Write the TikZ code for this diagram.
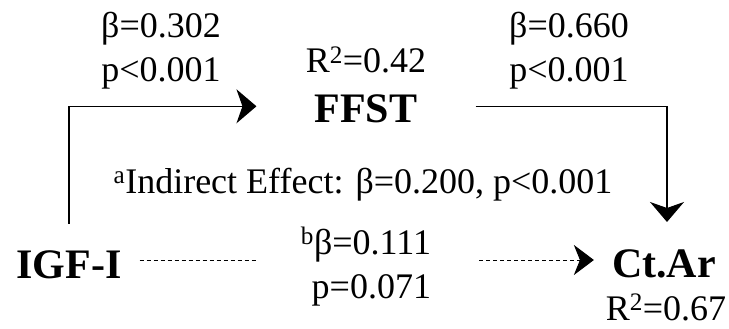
\documentclass[tikz,border=0pt]{standalone}
\usepackage{fontspec}
\setmainfont{Liberation Serif}
\usetikzlibrary{arrows.meta}
\begin{document}
\begin{tikzpicture}[x=1pt,y=-1pt,
  lbl/.style={font=\fontsize{36}{44}\selectfont, inner sep=0pt, anchor=base, align=center},
  var/.style={font=\fontsize{42}{50}\selectfont\bfseries, inner sep=0pt, anchor=base},
  conn/.style={line width=1.2pt, -{Stealth[length=20pt,width=34pt,inset=6pt]}},
  dline/.style={line width=1pt, dash pattern=on 4pt off 3pt, -{Stealth[length=20pt,width=30pt,inset=6pt]}}]
\useasboundingbox (0,0) rectangle (729,329);

% variables
\node[var] (igf) at (69,278) {IGF-I};
\node[var] (ffst) at (366,122) {FFST};
\node[var] (ct) at (664,277) {Ct.Ar};

% explained variance
\node[lbl] (r1) at (366,73) {R\textsuperscript{2}=0.42};
\node[lbl] (r2) at (666,320) {R\textsuperscript{2}=0.67};

% path coefficients (two-line nodes sit on the baseline of their last line)
\node[lbl] (a1) at (161,82) {β=0.302\\p<0.001};
\node[lbl] (a2) at (569,82) {β=0.660\\p<0.001};
\node[lbl, align=right] (mid) at (366,298) {\textsuperscript{b}β=0.111\\p=0.071};
\node[lbl] (ind) at (363,193) {\textsuperscript{a}Indirect Effect: β=0.200, p<0.001};

% mediated paths
\draw[conn] ([yshift=26pt]igf.north) |- ([xshift=-58pt,yshift=2pt]ffst.west);
\draw[conn] ([xshift=58pt,yshift=2pt]ffst.east) -| ([xshift=3pt,yshift=27pt]ct.north);

% direct path, broken around its label
\coordinate (dA) at (257,260);
\coordinate (dB) at (479,260);
\draw[dline, -] ([xshift=18pt]igf.east |- dA) -- (dA);
\draw[dline] (dB) -- ([xshift=-18pt]ct.west |- dB);
\end{tikzpicture}
\end{document}
